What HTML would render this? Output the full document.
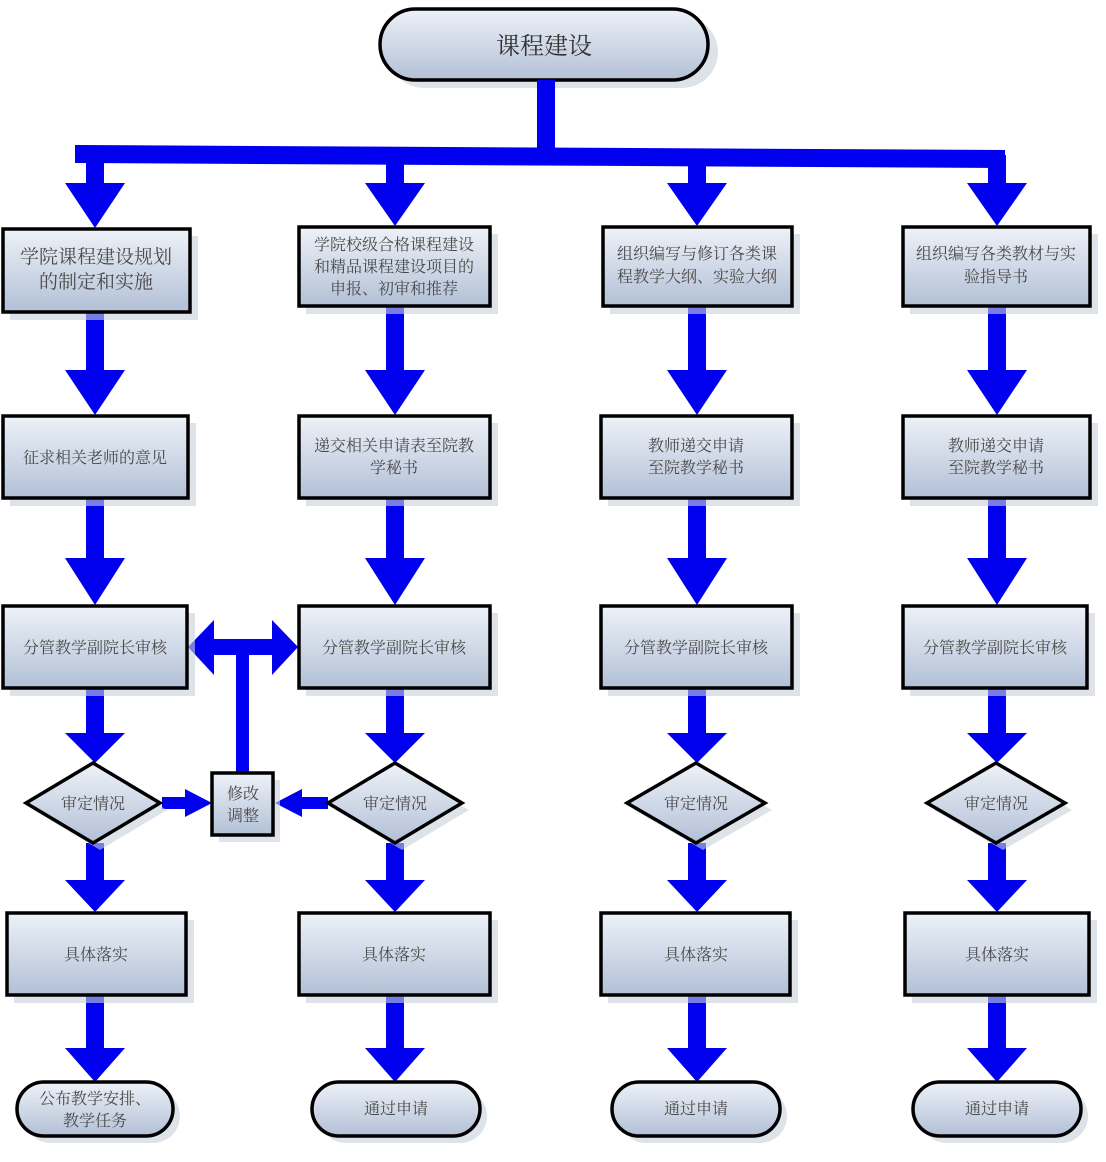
<!DOCTYPE html>
<html><head><meta charset="utf-8"><style>
html,body{margin:0;padding:0;background:#fff;}
svg{display:block;}
text{font-family:"Liberation Serif","Noto Serif CJK SC","Noto Sans CJK SC",serif;fill:#4a4a4a;font-size:16px;text-anchor:middle;}
.b{fill:url(#g);stroke:#000;stroke-width:3.5;}
.s{fill:#c8d0dc;opacity:.6;}
.a{fill:#0000ee;}
</style></head><body>
<svg width="1106" height="1162" viewBox="0 0 1106 1162">
<defs>
<linearGradient id="g" x1="0" y1="0" x2="0" y2="1">
<stop offset="0" stop-color="#eef2f8"/><stop offset="1" stop-color="#b2c0d6"/>
</linearGradient>
<symbol id="dn" overflow="visible"></symbol>
</defs>

<!-- top pill -->
<rect class="s" x="388" y="16" width="330" height="72" rx="36"/>
<rect class="b" x="380" y="9" width="328" height="71" rx="35.5"/>
<text x="544" y="54" style="font-size:24px;fill:#333">课程建设</text>

<!-- trunk -->
<rect class="a" x="537" y="80" width="18" height="80"/>
<polygon class="a" points="75,145 1005,150 1005,168 75,163"/>

<!-- down arrows: shaft 18 wide, head 60 wide, 45 tall -->
<g class="a">
<!-- generator pattern: shaft rect then head polygon -->
<!-- col1 cx=95 -->
<rect x="86" y="150" width="18" height="35"/><polygon points="65,183 125,183 95,228"/>
<rect x="86" y="312" width="18" height="60"/><polygon points="65,370 125,370 95,415"/>
<rect x="86" y="498" width="18" height="62"/><polygon points="65,558 125,558 95,605"/>
<rect x="86" y="688" width="18" height="47"/><polygon points="65,733 125,733 95,763"/>
<rect x="86" y="843" width="18" height="40"/><polygon points="65,880 125,880 95,912"/>
<rect x="86" y="996" width="18" height="54"/><polygon points="65,1048 125,1048 95,1082"/>
<!-- col2 cx=395 -->
<rect x="386" y="150" width="18" height="35"/><polygon points="365,183 425,183 395,226"/>
<rect x="386" y="306" width="18" height="66"/><polygon points="365,370 425,370 395,415"/>
<rect x="386" y="498" width="18" height="62"/><polygon points="365,558 425,558 395,605"/>
<rect x="386" y="688" width="18" height="47"/><polygon points="365,733 425,733 395,763"/>
<rect x="386" y="843" width="18" height="40"/><polygon points="365,880 425,880 395,912"/>
<rect x="386" y="996" width="18" height="54"/><polygon points="365,1048 425,1048 395,1082"/>
<!-- col3 cx=697 -->
<rect x="688" y="155" width="18" height="30"/><polygon points="667,183 727,183 697,226"/>
<rect x="688" y="306" width="18" height="66"/><polygon points="667,370 727,370 697,415"/>
<rect x="688" y="498" width="18" height="62"/><polygon points="667,558 727,558 697,605"/>
<rect x="688" y="688" width="18" height="47"/><polygon points="667,733 727,733 697,763"/>
<rect x="688" y="843" width="18" height="40"/><polygon points="667,880 727,880 697,912"/>
<rect x="688" y="996" width="18" height="54"/><polygon points="667,1048 727,1048 697,1082"/>
<!-- col4 cx=997 -->
<rect x="988" y="155" width="18" height="30"/><polygon points="967,183 1027,183 997,226"/>
<rect x="988" y="306" width="18" height="66"/><polygon points="967,370 1027,370 997,415"/>
<rect x="988" y="498" width="18" height="62"/><polygon points="967,558 1027,558 997,605"/>
<rect x="988" y="688" width="18" height="47"/><polygon points="967,733 1027,733 997,763"/>
<rect x="988" y="843" width="18" height="40"/><polygon points="967,880 1027,880 997,912"/>
<rect x="988" y="996" width="18" height="54"/><polygon points="967,1048 1027,1048 997,1082"/>
<!-- middle double arrow -->
<rect x="210" y="639" width="70" height="16"/>
<polygon points="188,647 214,620 214,675"/>
<polygon points="298,647 272,620 272,675"/>
<rect x="236" y="645" width="13" height="130"/>
<!-- side arrows into 修改调整 -->
<rect x="162" y="797" width="25" height="12"/><polygon points="185,789 185,817 212,803"/>
<rect x="300" y="797" width="28" height="12"/><polygon points="302,789 302,817 275,803"/>
</g>

<!-- boxes -->
<g>
<rect class="s" x="10" y="236" width="188" height="84"/><rect class="b" x="3" y="229" width="187" height="83"/>
<rect class="s" x="306" y="234" width="192" height="80"/><rect class="b" x="299" y="227" width="191" height="79"/>
<rect class="s" x="610" y="234" width="190" height="80"/><rect class="b" x="603" y="227" width="189" height="79"/>
<rect class="s" x="910" y="234" width="188" height="80"/><rect class="b" x="903" y="227" width="187" height="79"/>

<rect class="s" x="10" y="423" width="186" height="83"/><rect class="b" x="3" y="416" width="185" height="82"/>
<rect class="s" x="306" y="423" width="192" height="83"/><rect class="b" x="299" y="416" width="191" height="82"/>
<rect class="s" x="608" y="423" width="192" height="83"/><rect class="b" x="601" y="416" width="191" height="82"/>
<rect class="s" x="910" y="423" width="188" height="83"/><rect class="b" x="903" y="416" width="187" height="82"/>

<rect class="s" x="10" y="613" width="185" height="83"/><rect class="b" x="3" y="606" width="184" height="82"/>
<rect class="s" x="306" y="613" width="192" height="83"/><rect class="b" x="299" y="606" width="191" height="82"/>
<rect class="s" x="608" y="613" width="192" height="83"/><rect class="b" x="601" y="606" width="191" height="82"/>
<rect class="s" x="910" y="613" width="185" height="83"/><rect class="b" x="903" y="606" width="184" height="82"/>

<rect class="s" x="14" y="920" width="180" height="83"/><rect class="b" x="7" y="913" width="179" height="82"/>
<rect class="s" x="306" y="920" width="192" height="83"/><rect class="b" x="299" y="913" width="191" height="82"/>
<rect class="s" x="608" y="920" width="190" height="83"/><rect class="b" x="601" y="913" width="189" height="82"/>
<rect class="s" x="912" y="920" width="185" height="83"/><rect class="b" x="905" y="913" width="184" height="82"/>

<!-- diamonds -->
<polygon class="s" points="100,770 167,810 100,850 33,810"/><polygon class="b" points="93,763 160,803 93,843 26,803"/>
<polygon class="s" points="402,770 469,810 402,850 335,810"/><polygon class="b" points="395,763 462,803 395,843 328,803"/>
<polygon class="s" points="703,770 772,810 703,850 634,810"/><polygon class="b" points="696,763 765,803 696,843 627,803"/>
<polygon class="s" points="1003,770 1072,810 1003,850 934,810"/><polygon class="b" points="996,763 1065,803 996,843 927,803"/>

<!-- 修改调整 -->
<rect class="s" x="219" y="780" width="61" height="62"/><rect class="b" x="212" y="773" width="61" height="62"/>

<!-- ovals -->
<rect class="s" x="24" y="1089" width="156" height="54" rx="27"/><rect class="b" x="17" y="1082" width="156" height="54" rx="27"/>
<rect class="s" x="319" y="1089" width="168" height="54" rx="27"/><rect class="b" x="312" y="1082" width="168" height="54" rx="27"/>
<rect class="s" x="619" y="1089" width="168" height="54" rx="27"/><rect class="b" x="612" y="1082" width="168" height="54" rx="27"/>
<rect class="s" x="920" y="1089" width="168" height="54" rx="27"/><rect class="b" x="913" y="1082" width="168" height="54" rx="27"/>
</g>

<!-- text -->
<text x="96" y="263" style="font-size:19px">学院课程建设规划</text>
<text x="96" y="288" style="font-size:19px">的制定和实施</text>
<text x="394" y="250">学院校级合格课程建设</text>
<text x="394" y="272">和精品课程建设项目的</text>
<text x="394" y="294">申报、初审和推荐</text>
<text x="697" y="259">组织编写与修订各类课</text>
<text x="697" y="282">程教学大纲、实验大纲</text>
<text x="996" y="259">组织编写各类教材与实</text>
<text x="996" y="282">验指导书</text>

<text x="95" y="463">征求相关老师的意见</text>
<text x="394" y="451">递交相关申请表至院教</text>
<text x="394" y="473">学秘书</text>
<text x="696" y="451">教师递交申请</text>
<text x="696" y="473">至院教学秘书</text>
<text x="996" y="451">教师递交申请</text>
<text x="996" y="473">至院教学秘书</text>

<text x="95" y="653">分管教学副院长审核</text>
<text x="394" y="653">分管教学副院长审核</text>
<text x="696" y="653">分管教学副院长审核</text>
<text x="995" y="653">分管教学副院长审核</text>

<text x="93" y="809">审定情况</text>
<text x="395" y="809">审定情况</text>
<text x="696" y="809">审定情况</text>
<text x="996" y="809">审定情况</text>
<text x="243" y="799">修改</text>
<text x="243" y="821">调整</text>

<text x="96" y="960">具体落实</text>
<text x="394" y="960">具体落实</text>
<text x="696" y="960">具体落实</text>
<text x="997" y="960">具体落实</text>

<text x="95" y="1104">公布教学安排、</text>
<text x="95" y="1126">教学任务</text>
<text x="396" y="1114">通过申请</text>
<text x="696" y="1114">通过申请</text>
<text x="997" y="1114">通过申请</text>
</svg>
</body></html>
